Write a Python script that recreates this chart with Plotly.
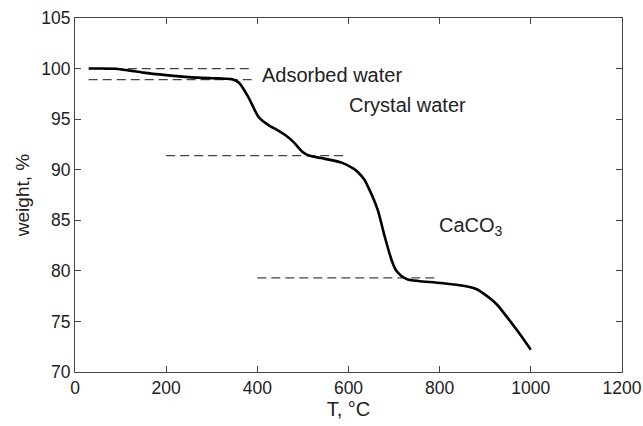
import plotly.graph_objects as go

# TGA curve data
temp = [30, 60, 90, 120, 150, 200, 250, 300, 330, 345, 360, 380, 403, 426, 445, 462, 480, 498, 513, 540,
        585, 611, 622, 635, 644, 655, 665, 680, 695, 705, 716, 730, 753, 803, 855, 880, 898, 925, 950, 975, 1000]
weight = [100.0, 100.0, 99.98, 99.8, 99.6, 99.35, 99.15, 99.05, 99.0, 98.95, 98.6, 97.2, 95.2, 94.36, 93.9, 93.4, 92.7, 91.8, 91.4, 91.15,
          90.7, 90.1, 89.7, 89.0, 88.2, 87.1, 85.9, 83.3, 81.0, 80.0, 79.5, 79.15, 79.0, 78.8, 78.5, 78.2, 77.7, 76.7, 75.3, 73.8, 72.2]

# Reference dashed levels: (start T, end T, weight)
dash_x0 = [85, 30, 200, 400]
dash_x1 = [390, 390, 590, 790]
dash_y = [100.0, 98.9, 91.4, 79.3]

# Labels
label_text = ["Adsorbed water", "Crystal water", "CaCO<sub>3</sub>"]
label_x = [406, 597, 795]
label_y = [99.4, 96.4, 84.4]

FONT = "Liberation Sans, Arial, sans-serif"
TXT = "#222222"

fig = go.Figure()

for x0, x1, y in zip(dash_x0, dash_x1, dash_y):
    fig.add_trace(go.Scatter(x=[x0, x1], y=[y, y], mode="lines",
                             line=dict(color="#444444", width=1.2, dash="9px,5px"),
                             showlegend=False, hoverinfo="skip"))

fig.add_trace(go.Scatter(x=temp, y=weight, mode="lines",
                         line=dict(color="black", width=2.6, shape="spline", smoothing=0.6),
                         showlegend=False))

for t, x, y in zip(label_text, label_x, label_y):
    fig.add_annotation(x=x, y=y, text=t, showarrow=False, xanchor="left", yanchor="middle",
                       font=dict(size=20, color=TXT, family=FONT))

axis_common = dict(showgrid=False, zeroline=False, showline=True, linecolor="#444444", linewidth=1.2,
                   mirror="ticks", ticks="inside", ticklen=6, tickcolor="#444444", tickwidth=1.2,
                   automargin=False, ticklabeloverflow="allow",
                   tickfont=dict(size=17.5, color=TXT, family=FONT))

fig.update_xaxes(range=[0, 1200], tickvals=[0, 200, 400, 600, 800, 1000, 1200],
                 title=dict(text="T, °C", standoff=4, font=dict(size=20, color=TXT, family=FONT)),
                 **axis_common)
fig.update_yaxes(range=[70, 105], tickvals=[70, 75, 80, 85, 90, 95, 100, 105],
                 title=dict(text="weight, %", standoff=6, font=dict(size=19, color=TXT, family=FONT)),
                 **axis_common)

fig.update_layout(width=643, height=426, margin=dict(l=75, r=21, t=18, b=54),
                  plot_bgcolor="white", paper_bgcolor="white")

fig.write_html("out.html")
